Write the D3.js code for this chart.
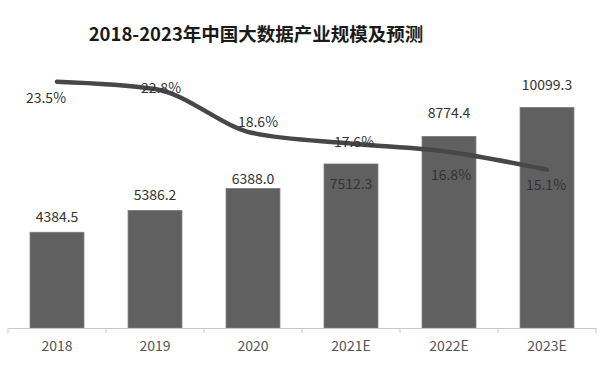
<!DOCTYPE html>
<html><head><meta charset="utf-8">
<script src="https://cdn.jsdelivr.net/npm/d3@7"></script>
<style>
html,body{margin:0;padding:0;background:#fff;}
text{font-family:"Noto Sans CJK SC","Noto Sans",sans-serif;}
</style></head>
<body><svg id="c" width="615" height="375"></svg>
<script>
const title = "2018-2023年中国大数据产业规模及预测";
const categories = ["2018","2019","2020","2021E","2022E","2023E"];
const marketSize = [4384.5,5386.2,6388.0,7512.3,8774.4,10099.3];
const growthRate = [23.5,22.8,18.6,17.6,16.8,15.1];
const sizeLabels = ["4384.5","5386.2","6388.0","7512.3","8774.4","10099.3"];
const rateLabels = ["23.5%","22.8%","18.6%","17.6%","16.8%","15.1%"];

// layout offsets for labels (px)
const sizeLabelDy = [-10,-10,-5,25,-18,-17];
const rateLabelDx = [-11,6,5,3,2,-1];
const rateLabelDy = [21,4,-6,3,28,20];

const svg = d3.select("#c");
const plotBase = 328, plotTop = 66;
const x = d3.scaleBand().domain(categories).range([8,596]).paddingInner(0.45).paddingOuter(0.225);
const y = d3.scaleLinear().domain([0,12000]).range([plotBase,plotTop]);
const y2 = d3.scaleLinear().domain([0,25]).range([plotBase,plotTop]);

svg.append("text").attr("x",256).attr("y",41).attr("text-anchor","middle")
  .attr("font-size",18.5).attr("font-weight","bold").attr("fill","#1a1a1a").text(title);

// bars
svg.append("g").selectAll("rect").data(marketSize).join("rect")
  .attr("x",(d,i)=>x(categories[i])).attr("width",x.bandwidth())
  .attr("y",d=>y(d)).attr("height",d=>plotBase-y(d))
  .attr("fill","#606060").attr("stroke","#7a7a7a").attr("stroke-width",0.8);

// axis
const ax = svg.append("g").attr("transform",`translate(0,${plotBase})`)
  .call(d3.axisBottom(x).tickSize(0).tickSizeOuter(0).tickPadding(13));
ax.select(".domain").attr("stroke","#c8c8c8");
ax.selectAll("text").attr("font-size",14).attr("fill","#555").attr("font-family","\"Noto Sans\",sans-serif");
const step = x.step();
const bounds = categories.map(c=>x(c)-x.paddingInner()*step/2).concat([x(categories[categories.length-1])+x.bandwidth()+x.paddingInner()*step/2]);
ax.selectAll("line.b").data(bounds).join("line").attr("class","b")
  .attr("x1",d=>d).attr("x2",d=>d).attr("y1",0).attr("y2",5).attr("stroke","#c8c8c8");

// line
const cx = i => x(categories[i]) + x.bandwidth()/2;
const line = d3.line().x((d,i)=>cx(i)).y(d=>y2(d)).curve(d3.curveMonotoneX);
svg.append("path").datum(growthRate).attr("d",line).attr("fill","none")
  .attr("stroke","#474747").attr("stroke-width",4.5).attr("stroke-linecap","round");

// bar labels
svg.append("g").selectAll("text").data(marketSize).join("text")
  .attr("x",(d,i)=>cx(i)).attr("y",(d,i)=>y(d)+sizeLabelDy[i])
  .attr("text-anchor","middle").attr("font-size",14).attr("fill","#333")
  .attr("font-family","\"Noto Sans\",sans-serif")
  .text((d,i)=>sizeLabels[i]);

// rate labels
svg.append("g").selectAll("text").data(growthRate).join("text")
  .attr("x",(d,i)=>cx(i)+rateLabelDx[i]).attr("y",(d,i)=>y2(d)+rateLabelDy[i])
  .attr("text-anchor","middle").attr("font-size",14).attr("fill","#333")
  .attr("font-family","\"Noto Sans\",sans-serif")
  .text((d,i)=>rateLabels[i]);
</script></body></html>
